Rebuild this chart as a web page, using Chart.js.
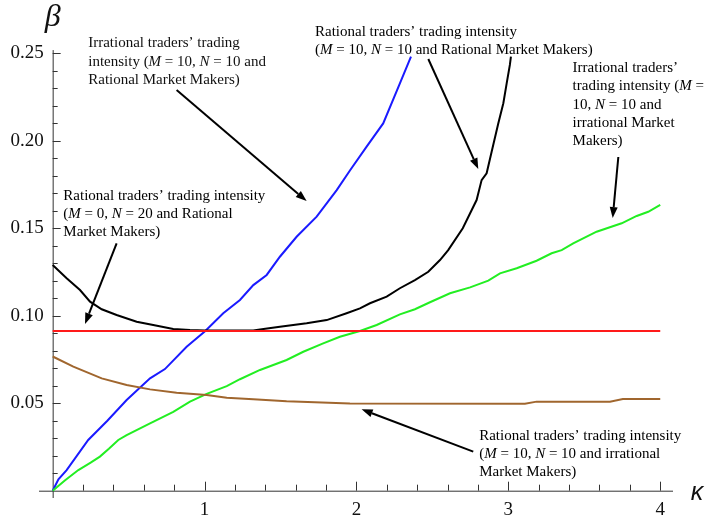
<!DOCTYPE html>
<html>
<head>
<meta charset="utf-8">
<script src="https://cdn.jsdelivr.net/npm/chart.js@4.4.0/dist/chart.umd.min.js"></script>
<style>
  html, body { margin: 0; padding: 0; background: #fff; }
  canvas { display: block; }
</style>
</head>
<body>
<canvas id="c" width="706" height="525"></canvas>
<script>
// Trading intensity beta as a function of kappa

// Irrational traders, M = 10, N = 10, rational market makers (blue)
const kappaIrrRat = [0, 0.038, 0.092, 0.234, 0.36, 0.487, 0.641, 0.739, 0.882, 1.003, 1.123, 1.233, 1.321, 1.409, 1.496, 1.606, 1.738, 1.870, 1.957, 2.067, 2.176, 2.286, 2.359];
const betaIrrRat  = [0, 0.0065, 0.0118, 0.029, 0.040, 0.0518, 0.0642, 0.0695, 0.0823, 0.0911, 0.1014, 0.1090, 0.1175, 0.1233, 0.1337, 0.1451, 0.1566, 0.1718, 0.1830, 0.1966, 0.2099, 0.2328, 0.2480];

// Rational traders, M = 10, N = 10, rational market makers (black)
const kappaRatRat = [0, 0.092, 0.18, 0.246, 0.323, 0.421, 0.553, 0.662, 0.794, 0.904, 1.0, 1.32, 1.40, 1.496, 1.672, 1.804, 1.935, 2.023, 2.089, 2.199, 2.286, 2.385, 2.473, 2.55, 2.604, 2.7, 2.791, 2.824, 2.857, 2.89, 2.934, 2.967, 2.989, 3.01, 3.017];
const betaRatRat  = [0.129, 0.1214, 0.1147, 0.108, 0.1037, 0.1004, 0.0966, 0.0947, 0.0924, 0.0918, 0.0915, 0.0915, 0.0925, 0.0937, 0.0957, 0.0975, 0.1014, 0.1042, 0.1071, 0.1109, 0.1157, 0.1204, 0.1251, 0.1318, 0.1375, 0.150, 0.1661, 0.1775, 0.1814, 0.1937, 0.2100, 0.2214, 0.2328, 0.2433, 0.2480];

// Irrational traders, M = 10, N = 10, irrational market makers (green)
const kappaIrrIrr = [0, 0.08, 0.169, 0.25, 0.311, 0.37, 0.432, 0.487, 0.641, 0.794, 0.904, 1.014, 1.146, 1.233, 1.365, 1.540, 1.650, 1.781, 1.891, 2.023, 2.133, 2.286, 2.385, 2.484, 2.616, 2.748, 2.868, 2.945, 3.055, 3.186, 3.285, 3.351, 3.427, 3.581, 3.746, 3.845, 3.921, 4.0];
const betaIrrIrr  = [0, 0.0058, 0.0118, 0.0160, 0.0195, 0.0240, 0.0290, 0.0318, 0.0385, 0.0451, 0.0509, 0.0553, 0.0598, 0.0637, 0.0690, 0.0747, 0.0794, 0.0842, 0.0880, 0.0913, 0.0947, 0.1008, 0.1037, 0.1077, 0.1128, 0.1162, 0.1200, 0.1242, 0.1271, 0.1314, 0.1357, 0.1375, 0.1414, 0.1480, 0.1528, 0.1570, 0.1594, 0.1633];

// Rational traders, M = 0, N = 20, rational market makers (red)
const kappaM0 = [0, 4];
const betaM0  = [0.0913, 0.0913];

// Rational traders, M = 10, N = 10, irrational market makers (brown)
const kappaRatIrr = [0, 0.136, 0.323, 0.487, 0.641, 0.816, 1.014, 1.146, 1.321, 1.540, 1.957, 3.109, 3.186, 3.669, 3.754, 4.0];
const betaRatIrr  = [0.0767, 0.0709, 0.0642, 0.0604, 0.0579, 0.0560, 0.0547, 0.0531, 0.0522, 0.0511, 0.0499, 0.0497, 0.0509, 0.0509, 0.0524, 0.0524];

// Axis ticks
const xMajorTicks = [1, 2, 3, 4];
const xTickLabels = ['1', '2', '3', '4'];
const yMajorTicks = [0.05, 0.10, 0.15, 0.20, 0.25];
const yTickLabels = ['0.05', '0.10', '0.15', '0.20', '0.25'];

// Callout texts (lines) with anchor and arrow in data units
const noteLines = [
  ['Irrational traders\u2019 trading', 'intensity (M = 10, N = 10 and', 'Rational Market Makers)'],
  ['Rational traders\u2019 trading intensity', '(M = 10, N = 10 and Rational Market Makers)'],
  ['Irrational traders\u2019', 'trading intensity (M =', '10, N = 10 and', 'irrational Market', 'Makers)'],
  ['Rational traders\u2019 trading intensity', '(M = 0, N = 20 and Rational', 'Market Makers)'],
  ['Rational traders\u2019 trading intensity', '(M = 10, N = 10 and irrational', 'Market Makers)']
];
const noteAnchors = [[0.234, 0.2556], [1.727, 0.2623], [3.423, 0.2414], [0.070, 0.1684], [2.808, 0.0313]];
const arrowFrom = [[0.816, 0.2290], [2.473, 0.2467], [3.724, 0.1907], [0.421, 0.1414], [2.769, 0.0223]];
const arrowTo   = [[1.672, 0.1655], [2.802, 0.1838], [3.687, 0.1558], [0.213, 0.0953], [2.034, 0.0465]];

function pts(xs, ys) { return xs.map((x, i) => ({ x: x, y: ys[i] })); }

function series(xs, ys, color) {
  return {
    data: pts(xs, ys), showLine: true, borderColor: color, backgroundColor: color,
    borderWidth: 2, pointRadius: 0, tension: 0, fill: false
  };
}

const SERIF = '"Liberation Serif", "Times New Roman", serif';

function drawRich(ctx, text, x, y, size) {
  const parts = text.split(/\b([MN])(?=\s*=)/);
  let cx = x;
  parts.forEach((p, i) => {
    ctx.font = (i % 2 ? 'italic ' : '') + size + 'px ' + SERIF;
    ctx.fillText(p, cx, y);
    cx += ctx.measureText(p).width;
  });
}

function drawArrow(ctx, x0, y0, x1, y1) {
  const ang = Math.atan2(y1 - y0, x1 - x0);
  const len = 11, half = 4;
  const bx = x1 - len * Math.cos(ang), by = y1 - len * Math.sin(ang);
  ctx.beginPath();
  ctx.moveTo(x0, y0);
  ctx.lineTo(bx, by);
  ctx.lineWidth = 2;
  ctx.strokeStyle = '#000';
  ctx.stroke();
  ctx.beginPath();
  ctx.moveTo(x1, y1);
  ctx.lineTo(bx + half * Math.sin(ang), by - half * Math.cos(ang));
  ctx.lineTo(bx - half * Math.sin(ang), by + half * Math.cos(ang));
  ctx.closePath();
  ctx.fillStyle = '#000';
  ctx.fill();
}

const axesPlugin = {
  id: 'axesPlugin',
  beforeDatasetsDraw(chart) {
    const { ctx, scales: { x, y }, chartArea } = chart;
    const x0 = x.getPixelForValue(0), y0 = y.getPixelForValue(0);
    ctx.save();
    ctx.strokeStyle = '#333';
    ctx.lineWidth = 1;
    // axis lines
    ctx.beginPath();
    ctx.moveTo(chartArea.left, y0 + 0.5);
    ctx.lineTo(chartArea.right, y0 + 0.5);
    ctx.moveTo(x0 + 0.5, chartArea.bottom);
    ctx.lineTo(x0 + 0.5, y.getPixelForValue(0.2518));
    // x ticks (minor every 0.2, major on integers)
    for (let k = 1; k <= 20; k++) {
      const v = k * 0.2;
      const px = Math.round(x.getPixelForValue(v)) + 0.5;
      const major = k % 5 === 0;
      ctx.moveTo(px, y0);
      ctx.lineTo(px, y0 - (major ? 9 : 6));
    }
    // y ticks (minor every 0.01, major every 0.05)
    for (let k = 1; k <= 25; k++) {
      const v = k * 0.01;
      const py = Math.round(y.getPixelForValue(v)) + 0.5;
      const major = k % 5 === 0;
      ctx.moveTo(x0, py);
      ctx.lineTo(x0 + (major ? 8 : 5), py);
    }
    ctx.stroke();

    // tick labels
    ctx.fillStyle = '#111';
    ctx.font = '19px ' + SERIF;
    ctx.textBaseline = 'middle';
    ctx.textAlign = 'center';
    xMajorTicks.forEach((v, i) => ctx.fillText(xTickLabels[i], x.getPixelForValue(v), y0 + 19));
    ctx.textAlign = 'right';
    yMajorTicks.forEach((v, i) => ctx.fillText(yTickLabels[i], x0 - 9, y.getPixelForValue(v)));

    // axis titles
    ctx.textAlign = 'center';
    ctx.font = 'italic 32px ' + SERIF;
    ctx.fillText('\u03B2', x0, 18);
    ctx.font = 'italic 25px "Liberation Sans", Arial, sans-serif';
    ctx.fillText('\u03BA', chartArea.right + 24, y0 + 2);
    ctx.restore();
  },
  afterDatasetsDraw(chart) {
    const { ctx, scales: { x, y } } = chart;
    ctx.save();
    ctx.fillStyle = '#111';
    ctx.textBaseline = 'middle';
    ctx.textAlign = 'left';
    noteLines.forEach((lines, n) => {
      const ax = x.getPixelForValue(noteAnchors[n][0]);
      const ay = y.getPixelForValue(noteAnchors[n][1]);
      lines.forEach((t, j) => drawRich(ctx, t, ax, ay + j * 18.2, 15));
      drawArrow(ctx,
        x.getPixelForValue(arrowFrom[n][0]), y.getPixelForValue(arrowFrom[n][1]),
        x.getPixelForValue(arrowTo[n][0]), y.getPixelForValue(arrowTo[n][1]));
    });
    ctx.restore();
  }
};

new Chart(document.getElementById('c'), {
  type: 'scatter',
  data: {
    datasets: [
      series(kappaM0, betaM0, '#ff1a1a'),
      series(kappaRatIrr, betaRatIrr, '#a0662e'),
      series(kappaIrrIrr, betaIrrIrr, '#22ee22'),
      series(kappaRatRat, betaRatRat, '#000000'),
      series(kappaIrrRat, betaIrrRat, '#1a1aff')
    ]
  },
  options: {
    responsive: false,
    animation: false,
    devicePixelRatio: 1,
    layout: { padding: { left: 39, right: 33, top: 45, bottom: 27 } },
    scales: {
      x: { type: 'linear', min: -0.09, max: 4.084, display: false },
      y: { type: 'linear', min: -0.00417, max: 0.2547, display: false }
    },
    plugins: { legend: { display: false }, tooltip: { enabled: false } }
  },
  plugins: [axesPlugin]
});
</script>
</body>
</html>
